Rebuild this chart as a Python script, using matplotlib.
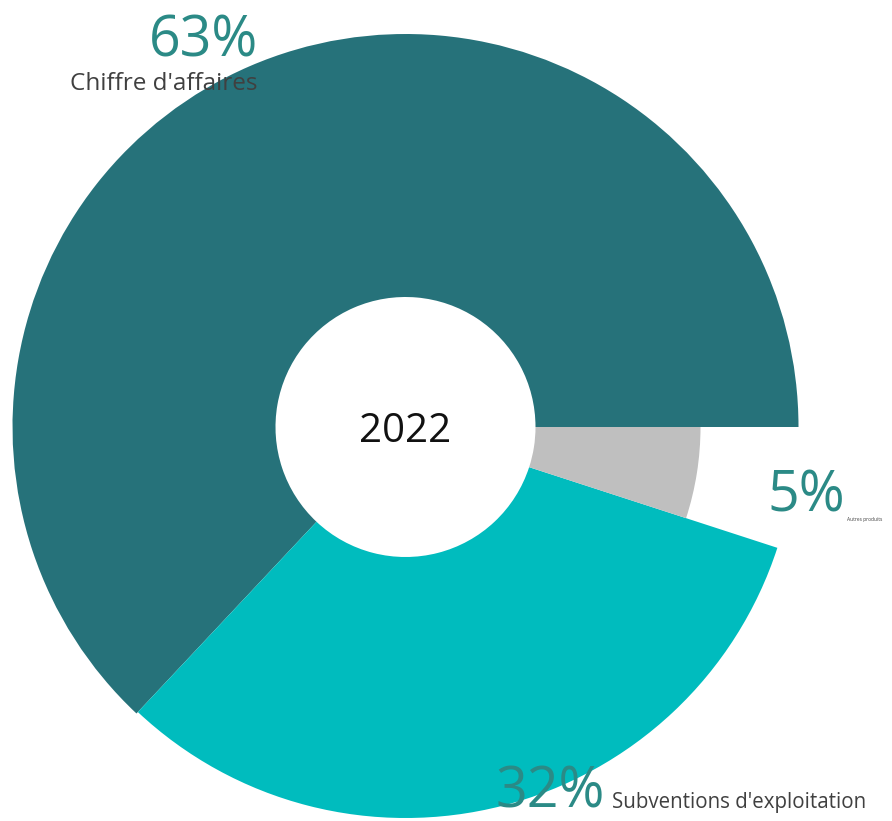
import matplotlib
matplotlib.use("Agg")
import matplotlib.pyplot as plt
from matplotlib.patches import Wedge

categories = ["Chiffre d'affaires", "Subventions d'exploitation", "Autres produits"]
values = [63, 32, 5]
pct_labels = ["63%", "32%", "5%"]
center_label = "2022"

colors = ["#26727A", "#00BCBE", "#BFBFBF"]
radii = [393, 391, 295]
hole = 130

W, H = 892, 821
fig = plt.figure(figsize=(W / 100, H / 100), dpi=100)
ax = fig.add_axes([0, 0, 1, 1])
ax.set_xlim(0, W)
ax.set_ylim(0, H)
ax.set_aspect("equal")
ax.axis("off")

cx, cy = 405.5, H - 427
total = sum(values)
start = 0.0
for v, c, r in zip(values, colors, radii):
    span = 360.0 * v / total
    ax.add_patch(Wedge((cx, cy), r, start, start + span, width=r - hole,
                       facecolor=c, edgecolor="none", antialiased=True))
    start += span

font = "Open Sans"
teal_txt = "#2B8A86"
grey_txt = "#404040"

ax.text(405, H - 432, center_label, ha="center", va="center",
        fontsize=29, color="#111111", family=font)

# 63%
ax.text(258, H - 56, pct_labels[0], ha="right", va="baseline",
        fontsize=40, color=teal_txt, family=font)
ax.text(258, H - 90, categories[0], ha="right", va="baseline",
        fontsize=17.5, color=grey_txt, family=font)

# 32%
ax.text(605, H - 807, pct_labels[1], ha="right", va="baseline",
        fontsize=40, color=teal_txt, family=font)
ax.text(612, H - 808, categories[1], ha="left", va="baseline",
        fontsize=14.8, color=grey_txt, family=font)

# 5%
ax.text(845, H - 512, pct_labels[2], ha="right", va="baseline",
        fontsize=40, color=teal_txt, family=font)
ax.text(847, H - 521, categories[2], ha="left", va="baseline",
        fontsize=3.5, color=grey_txt, family=font)

fig.savefig("out.png", dpi=100, facecolor="white")
